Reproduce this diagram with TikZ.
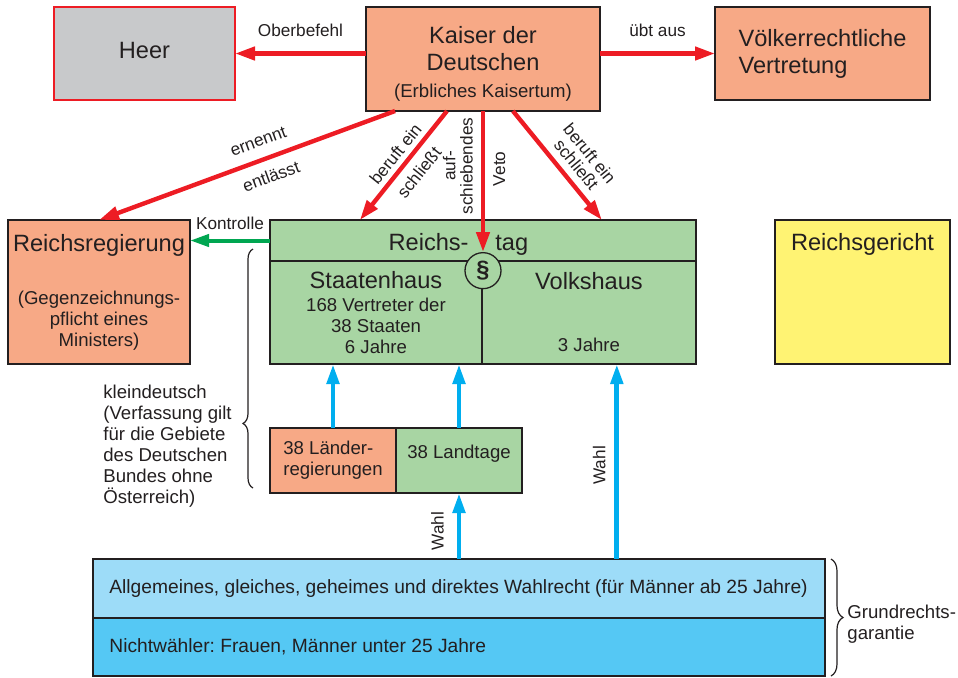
\documentclass[tikz,border=0pt]{standalone}
\usepackage{fontspec}
\setmainfont{Liberation Sans}
\frenchspacing
\usepackage{tikz}
\usetikzlibrary{arrows.meta,positioning,calc,decorations.pathreplacing}
\usepackage{xcolor}
\definecolor{vfred}{RGB}{237,28,36}
\definecolor{vfsalmon}{RGB}{247,169,134}
\definecolor{vfgray}{RGB}{200,201,203}
\definecolor{vfgreen}{RGB}{168,213,163}
\definecolor{vfyellow}{RGB}{255,243,115}
\definecolor{vflightblue}{RGB}{157,220,248}
\definecolor{vfblue}{RGB}{85,200,244}
\definecolor{vfcyan}{RGB}{0,174,239}
\definecolor{vfdarkgreen}{RGB}{0,166,81}
\definecolor{vfblack}{RGB}{35,31,32}
\newcommand{\bigfont}{\fontsize{11.8}{13.5}\selectfont}
\newcommand{\medfont}{\fontsize{9.3}{10.5}\selectfont}
\newcommand{\bandfont}{\fontsize{9.6}{11}\selectfont}
\tikzstyle{box} = [rectangle, draw=vfblack, line width=0.65pt, outer sep=0pt, inner sep=1pt, text=vfblack, align=center]
\tikzstyle{plaintext} = [text=vfblack, inner sep=1pt, align=left]
\tikzstyle{arrowtext} = [text=vfblack, inner sep=1pt, align=center, font=\fontsize{8.6}{8.6}\selectfont]
\tikzstyle{redarrow} = [line width=2.2pt,->,>={Triangle[length=10pt,width=6.5pt]},color=vfred]
\tikzstyle{bluearrow} = [line width=2.4pt,->,>={Triangle[length=10pt,width=6pt]},color=vfcyan]
\tikzstyle{greenarrow} = [line width=2pt,->,>={Triangle[length=9.5pt,width=6pt]},color=vfdarkgreen]
\tikzstyle{curly} = [decorate, draw=vfblack, line width=0.6pt]

\begin{document}
\begin{tikzpicture}[x=0.5pt, y=-0.5pt]
\useasboundingbox (0,0) rectangle (958,677);

% obere Reihe
\node[box, fill=vfsalmon, minimum width=117pt, minimum height=52pt, font=\bigfont] (kaiser) at (483,59) {\rule{0pt}{13.5pt}Kaiser der\\Deutschen\\{\medfont (Erbliches Kaisertum)}};
\node[box, fill=vfgray, draw=vfred, line width=1pt, minimum width=90.5pt, minimum height=46.5pt, font=\bigfont, text depth=3.5pt, left=65.5pt of kaiser.north west, anchor=north east] (heer) {Heer};
\node[box, fill=vfsalmon, minimum width=107.5pt, minimum height=46.5pt, font=\bigfont, align=left, right=57.5pt of kaiser.north east, anchor=north west] (voelker) {Völkerrechtliche\\Vertretung};

% Reichstag
\node[box, fill=vfgreen, minimum width=213pt, minimum height=20.5pt, below=54.5pt of kaiser] (rtop) {};
\node[plaintext, font=\bigfont, anchor=base east] (reichs) at ($(rtop.south)+(-6pt,5.5pt)$) {Reichs-};
\node[plaintext, font=\bigfont, anchor=base west] (tag) at ($(rtop.south)+(5pt,5.5pt)$) {tag};
\node[box, fill=vfgreen, minimum width=106pt, minimum height=51.5pt, font=\medfont, below=0pt of rtop.south west, anchor=north west] (staaten) {{\bigfont Staatenhaus}\\[0.6pt]168 Vertreter der\\38 Staaten\\6 Jahre};
\node[box, fill=vfgreen, minimum width=107pt, minimum height=51.5pt, font=\medfont, right=0pt of staaten] (volks) {{\bigfont Volkshaus}\\[20.5pt]3 Jahre};
\node[circle, draw=vfblack, line width=0.65pt, fill=vfgreen, text=vfblack, minimum size=18pt, inner sep=0pt, font=\bigfont\bfseries, below=-4.5pt of rtop.south] (para) {§};

% seitliche Kaesten
\node[box, fill=vfsalmon, minimum width=91pt, minimum height=72pt, font=\medfont, left=40pt of rtop.north west, anchor=north east] (reg) {{\bigfont Reichsregierung}\\[16pt](Gegenzeichnungs-\\pflicht eines\\Ministers)};
\node[box, fill=vfyellow, minimum width=87.5pt, minimum height=72pt, right=39.5pt of rtop.north east, anchor=north west] (gericht) {};
\node[plaintext, font=\bigfont, below=5.5pt of gericht.north] (gerichttext) {Reichsgericht};

% Laender
\node[box, fill=vfsalmon, minimum width=63pt, minimum height=32.5pt, font=\medfont, align=left, below=32pt of staaten.south west, anchor=north west] (laender) {38 Länder-\\regierungen};
\node[box, fill=vfgreen, minimum width=63pt, minimum height=32.5pt, right=0pt of laender] (landtage) {};
\node[plaintext, font=\medfont, below=7.5pt of landtage.north] (landtagetext) {38 Landtage};

% Waehler
\node[box, fill=vflightblue, minimum width=366pt, minimum height=29.5pt, below=33pt of landtage] (wahlrecht) {};
\node[plaintext, font=\bandfont, right=7pt of wahlrecht.west] (wahlrechttext) {Allgemeines, gleiches, geheimes und direktes Wahlrecht (für Männer ab 25 Jahre)};
\node[box, fill=vfblue, minimum width=366pt, minimum height=29pt, below=0pt of wahlrecht] (nicht) {};
\node[plaintext, font=\bandfont, right=7pt of nicht.west] (nichttext) {Nichtwähler: Frauen, Männer unter 25 Jahre};

% Pfeile
\coordinate (k1) at ($(kaiser.south west)!0.124!(kaiser.south east)$);
\coordinate (k2) at ($(kaiser.south west)!0.346!(kaiser.south east)$);
\coordinate (k4) at ($(kaiser.south west)!0.628!(kaiser.south east)$);
\coordinate (t1) at ($(rtop.north west)!0.211!(rtop.north east)$);
\coordinate (t2) at ($(rtop.north west)!0.779!(rtop.north east)$);
\coordinate (vwahl) at ($(volks.south west)!0.63!(volks.south east)$);

\draw[redarrow] (kaiser.west |- heer.east) -- (heer.east) node[arrowtext, midway, above=6.5pt] {Oberbefehl};
\draw[redarrow] (kaiser.east |- voelker.west) -- (voelker.west) node[arrowtext, midway, above=6.5pt] {übt aus};
\draw[redarrow] (k1) -- (reg.north) node[arrowtext, pos=0.44, sloped, above=4.5pt] {ernennt} node[arrowtext, pos=0.44, sloped, below=3.9pt] {entlässt};
\draw[redarrow] (k2) -- (t1) node[arrowtext, pos=0.47, sloped, above=1.5pt] {beruft ein} node[arrowtext, pos=0.47, sloped, below=3pt] {schließt};
\draw[redarrow] (kaiser.south) -- (para.north) node[arrowtext, pos=0.39, rotate=90, anchor=south, inner sep=4pt] {auf-\\schiebendes} node[arrowtext, pos=0.41, rotate=90, anchor=north, inner sep=4pt] {Veto};
\draw[redarrow] (k4) -- (t2) node[arrowtext, pos=0.58, sloped, above=2.5pt] {beruft ein\\schließt};

\draw[greenarrow] (rtop.west) -- (rtop.west -| reg.east) node[arrowtext, midway, above=3.5pt] {Kontrolle};

\draw[bluearrow] (laender.north) -- (laender.north |- staaten.south);
\draw[bluearrow] (landtage.north) -- (landtage.north |- staaten.south);
\draw[bluearrow] (landtage.south |- wahlrecht.north) -- (landtage.south) node[arrowtext, pos=0.42, sloped, above=5.4pt] {Wahl};
\draw[bluearrow] (vwahl |- wahlrecht.north) -- (vwahl) node[arrowtext, pos=0.48, sloped, above=3.4pt] {Wahl};

% Klammern
\coordinate (kl1) at ($(laender.south west)+(-8.5pt,2.5pt)$);
\coordinate (kl2) at ($(staaten.north west)+(-8.5pt,6pt)$);
\draw[curly, decoration={brace, amplitude=5pt, aspect=0.27}] (kl1) -- (kl2);
\node[plaintext, font=\medfont, below right=9.5pt and 46.5pt of reg.south west] (klein) {kleindeutsch\\(Verfassung gilt\\für die Gebiete\\des Deutschen\\Bundes ohne\\Österreich)};

\coordinate (gr1) at ($(wahlrecht.north east)+(3pt,0)$);
\coordinate (gr2) at ($(nicht.south east)+(3pt,0)$);
\draw[curly, decoration={brace, amplitude=6pt}] (gr1) -- (gr2);
\node[plaintext, font=\medfont, right=10pt of wahlrecht.south east, yshift=-3pt] (grund) {Grundrechts-\\garantie};
\end{tikzpicture}
\end{document}
